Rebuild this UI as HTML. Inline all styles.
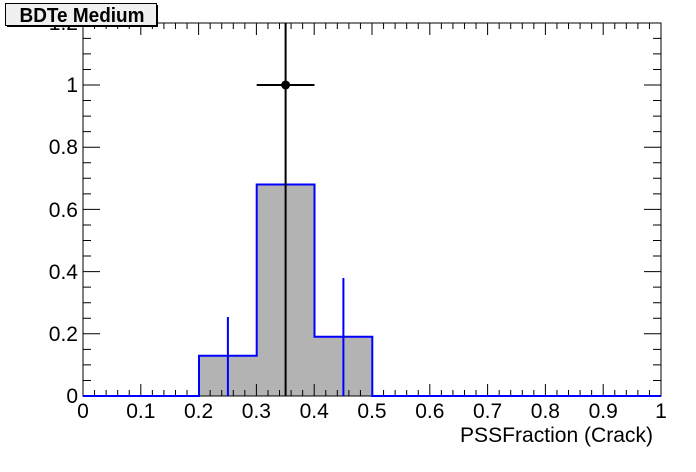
<!DOCTYPE html>
<html><head><style>
body{margin:0;background:#fff;width:696px;height:472px;overflow:hidden}
svg{display:block}
text{font-family:"Liberation Sans",Arial,sans-serif;fill:#000}
</style></head><body>
<svg id="s" width="696" height="472" xmlns="http://www.w3.org/2000/svg">
<rect x="0" y="0" width="696" height="472" fill="#fff"/>
<path d="M83,396 H199 V355.7 H256.7 V184.5 H314.5 V336.8 H372.3 V396 Z" fill="#b3b3b3"/>
<g id="ticks" stroke="#000" stroke-width="1" fill="none"></g>
<rect x="83" y="23" width="578" height="373" fill="none" stroke="#000" stroke-width="1"/>
<path d="M83,396 H199 V355.7 H256.7 V184.5 H314.5 V336.8 H372.3 V396 H661" fill="none" stroke="#0000ff" stroke-width="2"/>
<path d="M227.9,317 V396 M343.4,278 V396" stroke="#0000ff" stroke-width="2"/>
<path d="M285.6,23 V396 M256.7,85 H314.5" stroke="#000" stroke-width="2"/>
<circle cx="285.6" cy="85" r="4.5" fill="#000"/>
<g font-size="21" text-anchor="end">
<text x="78" y="403">0</text>
<text x="78" y="341">0.2</text>
<text x="78" y="279">0.4</text>
<text x="78" y="217">0.6</text>
<text x="78" y="154">0.8</text>
<text x="78" y="92">1</text>
<text x="78" y="30">1.2</text>
</g>
<g font-size="21" text-anchor="middle">
<text x="83" y="418">0</text>
<text x="140.8" y="418">0.1</text>
<text x="198.6" y="418">0.2</text>
<text x="256.4" y="418">0.3</text>
<text x="314.2" y="418">0.4</text>
<text x="372" y="418">0.5</text>
<text x="429.8" y="418">0.6</text>
<text x="487.6" y="418">0.7</text>
<text x="545.4" y="418">0.8</text>
<text x="603.2" y="418">0.9</text>
<text x="661" y="418">1</text>
</g>
<text x="653" y="442" font-size="21" text-anchor="end" textLength="193" lengthAdjust="spacingAndGlyphs">PSSFraction (Crack)</text>
<rect x="5.5" y="3.5" width="151" height="22" fill="#f0f0f0" stroke="#000"/>
<path d="M7,26.5 H158 M157.5,5 V26" stroke="#000" stroke-width="1"/>
<text x="82" y="22" font-size="20" font-weight="bold" text-anchor="middle" textLength="125" lengthAdjust="spacingAndGlyphs">BDTe Medium</text>
</svg>
<script>
var g=document.getElementById('ticks'),d='';
for(var i=0;i<=50;i++){var x=83+578*i/50,L=(i%5==0)?12:6;d+='M'+x+',396V'+(396-L)+'M'+x+',23V'+(23+L);}
for(var j=0;j<=24;j++){var y=396-311*j*0.05,L=(j%4==0)?17:8;if(y<23)continue;d+='M83,'+y+'H'+(83+L)+'M661,'+y+'H'+(661-L);}
var p=document.createElementNS('http://www.w3.org/2000/svg','path');p.setAttribute('d',d);g.appendChild(p);
</script>
</body></html>
